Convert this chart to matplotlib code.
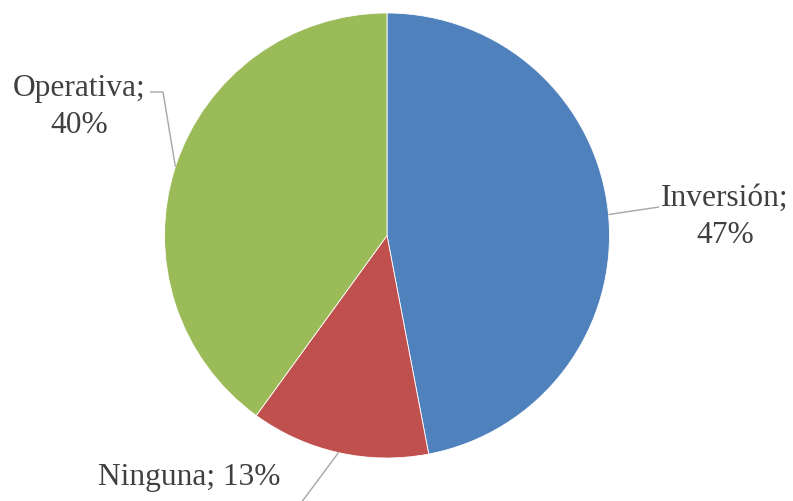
import numpy as np
import matplotlib.pyplot as plt

# ---- Datos ----
categorias = ['Inversión', 'Ninguna', 'Operativa']
valores = [47, 13, 40]
colores = ['#4F81BD', '#C0504D', '#9BBB59']

# ---- Figura en coordenadas de pixel (y hacia arriba) ----
W, H = 793, 501
fig = plt.figure(figsize=(W / 100, H / 100), dpi=100)
ax = fig.add_axes([0, 0, 1, 1])

cx, cy, r = 387, H - 235.5, 222.5
wedges, _ = ax.pie(valores, colors=colores, startangle=90, counterclock=False,
                   center=(cx, cy), radius=r, frame=True,
                   wedgeprops=dict(linewidth=0.6, edgecolor='white'))
ax.set_xlim(0, W)
ax.set_ylim(0, H)
ax.set_aspect('equal')
ax.axis('off')

# ---- Etiquetas con lineas guia ----
# (texto, posicion del texto, puntos de la guia en pixel y hacia abajo)
etiquetas = [
    ('Inversión;\n47%', (725, 217), [(659, 207)]),
    ('Ninguna; 13%', (189, 478), [(298, 507)]),
    ('Operativa;\n40%', (79, 107), [(163, 92), (150, 92)]),
]
color_txt = '#404040'
for w, (txt, (tx, ty), guia) in zip(wedges, etiquetas):
    ang = np.deg2rad((w.theta1 + w.theta2) / 2)
    px, py = cx + r * np.cos(ang), cy + r * np.sin(ang)
    xs = [px] + [g[0] for g in guia]
    ys = [py] + [H - g[1] for g in guia]
    ax.plot(xs, ys, color='#A6A6A6', lw=1.0, solid_capstyle='butt', clip_on=False)
    ax.text(tx, H - ty, txt, ha='center', va='center', fontsize=22.6,
            family='Liberation Serif', color=color_txt, linespacing=1.4)

fig.savefig('out.png', dpi=100, facecolor='white')
